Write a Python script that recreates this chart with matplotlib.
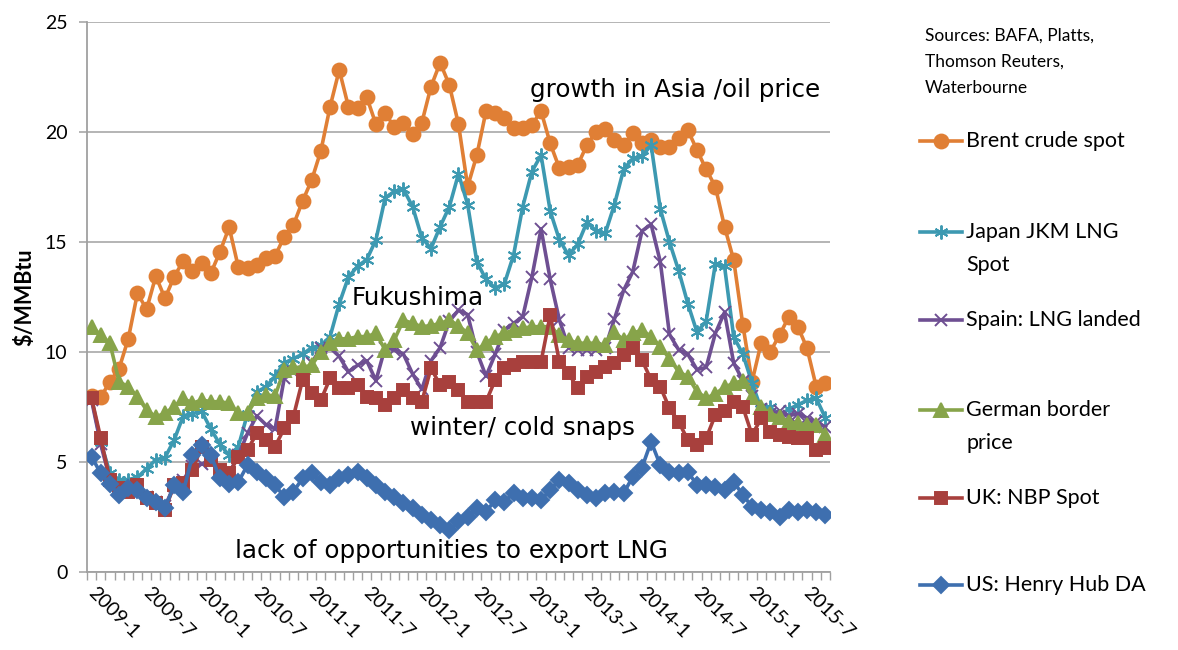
import numpy as np
import matplotlib
matplotlib.use('Agg')
import matplotlib.pyplot as plt
from matplotlib.lines import Line2D
from matplotlib.transforms import ScaledTranslation

# monthly data, 2009-1 .. 2015-9
start_year = 2009
n_months = 81

brent = [8.0, 7.95, 8.65, 9.25, 10.6, 12.67, 11.94, 13.45, 12.44, 13.42,
         14.15, 13.7, 14.06, 13.58, 14.56, 15.67, 13.85, 13.8, 13.95, 14.26,
         14.36, 15.24, 15.77, 16.86, 17.82, 19.15, 21.15, 22.82, 21.15, 21.08,
         21.58, 20.35, 20.88, 20.21, 20.42, 19.9, 20.42, 22.06, 23.15, 22.14,
         20.35, 17.52, 18.95, 20.95, 20.88, 20.62, 20.17, 20.17, 20.32, 20.95,
         19.48, 18.35, 18.42, 18.5, 19.41, 20.01, 20.12, 19.64, 19.41, 19.94,
         19.51, 19.64, 19.33, 19.33, 19.71, 20.09, 19.18, 18.3, 17.52, 15.7,
         14.18, 11.23, 8.65, 10.42, 10.02, 10.77, 11.6, 11.15, 10.17, 8.42, 8.6]

jkm = [7.9, 5.9, 4.5, 4.2, 4.2, 4.3, 4.7, 5.1, 5.2, 6.0,
       7.1, 7.2, 7.3, 6.5, 5.8, 5.3, 5.7, 7.2, 8.2, 8.4,
       8.9, 9.5, 9.7, 9.9, 10.2, 10.3, 10.7, 12.2, 13.4, 13.9,
       14.2, 15.1, 17.0, 17.3, 17.4, 16.6, 15.2, 14.7, 15.7, 16.6,
       18.1, 16.7, 14.1, 13.3, 12.9, 13.1, 14.4, 16.6, 18.2, 18.95,
       16.4, 15.1, 14.4, 14.9, 15.9, 15.5, 15.4, 16.7, 18.3, 18.8,
       18.9, 19.4, 16.5, 15.0, 13.7, 12.2, 10.9, 11.4, 14.0, 13.9,
       10.7, 9.9, 8.6, 7.4, 7.5, 7.1, 7.4, 7.6, 7.8, 7.9, 7.0]

spain = [7.8, 5.8, 4.2, 3.8, 3.7, 3.9, 3.4, 3.2, 3.0, 3.9,
         4.2, 4.8, 4.9, 5.0, 4.6, 4.5, 5.3, 6.3, 7.1, 6.7,
         6.5, 8.8, 9.1, 9.0, 9.5, 10.2, 10.2, 9.8, 9.1, 9.4,
         9.6, 8.7, 10.2, 10.1, 9.9, 9.0, 8.3, 9.6, 10.2, 11.4,
         11.9, 11.7, 10.0, 8.9, 9.9, 11.0, 11.3, 11.6, 13.4, 15.6,
         13.3, 11.45, 10.2, 10.1, 10.1, 10.1, 10.2, 11.5, 12.8, 13.65,
         15.5, 15.8, 14.1, 10.8, 10.1, 9.9, 9.2, 9.3, 10.85, 11.8,
         9.5, 8.7, 8.0, 7.4, 7.2, 7.3, 7.1, 7.2, 7.0, 6.8, 6.6]

german = [11.15, 10.77, 10.4, 8.65, 8.42, 7.97, 7.36, 7.06, 7.21, 7.52,
          7.89, 7.67, 7.82, 7.74, 7.74, 7.67, 7.21, 7.21, 7.89, 8.05,
          8.0, 9.2, 9.3, 9.3, 9.4, 10.0, 10.4, 10.6, 10.6, 10.7,
          10.7, 10.85, 10.1, 10.55, 11.45, 11.3, 11.15, 11.2, 11.3, 11.45,
          11.2, 10.85, 10.1, 10.4, 10.7, 10.85, 11.0, 11.08, 11.15, 11.15,
          11.15, 10.77, 10.55, 10.4, 10.4, 10.4, 10.3, 10.9, 10.55, 10.85,
          11.0, 10.7, 10.24, 9.7, 9.1, 8.88, 8.2, 7.9, 8.1, 8.4,
          8.58, 8.7, 7.97, 7.5, 7.2, 7.06, 6.83, 6.76, 6.68, 6.68, 6.23]

nbp = [7.9, 6.08, 4.18, 3.8, 3.65, 3.95, 3.35, 3.12, 2.82, 3.95,
       4.03, 4.64, 5.7, 5.09, 4.64, 4.48, 5.24, 5.55, 6.3, 6.0,
       5.7, 6.53, 7.06, 8.73, 8.12, 7.82, 8.8, 8.35, 8.35, 8.5,
       7.97, 7.9, 7.6, 7.9, 8.27, 7.9, 7.74, 9.26, 8.5, 8.65,
       8.27, 7.74, 7.74, 7.74, 8.73, 9.26, 9.4, 9.56, 9.56, 9.56,
       11.68, 9.56, 9.03, 8.35, 8.88, 9.1, 9.33, 9.48, 9.86, 10.17,
       9.64, 8.73, 8.42, 7.44, 6.83, 6.0, 5.77, 6.08, 7.14, 7.3,
       7.74, 7.5, 6.23, 6.98, 6.38, 6.23, 6.15, 6.08, 6.08, 5.55, 5.62]

henry_hub = [5.24, 4.48, 4.0, 3.5, 3.8, 3.75, 3.35, 3.2, 2.9, 3.95,
             3.65, 5.3, 5.77, 5.3, 4.26, 4.0, 4.1, 4.86, 4.56, 4.26,
             3.95, 3.42, 3.65, 4.26, 4.48, 4.1, 3.95, 4.26, 4.4, 4.56,
             4.26, 3.95, 3.65, 3.42, 3.12, 2.9, 2.6, 2.36, 2.14, 1.9,
             2.3, 2.5, 2.9, 2.74, 3.27, 3.2, 3.58, 3.35, 3.35, 3.27,
             3.73, 4.18, 4.03, 3.73, 3.5, 3.35, 3.58, 3.65, 3.58, 4.33,
             4.75, 5.92, 4.86, 4.56, 4.48, 4.56, 3.95, 3.95, 3.88, 3.73,
             4.1, 3.5, 2.97, 2.82, 2.74, 2.5, 2.82, 2.74, 2.82, 2.74, 2.6]

labels = ['Brent crude spot', 'Japan JKM LNG\nSpot', 'Spain: LNG landed',
          'German border\nprice', 'UK: NBP Spot', 'US: Henry Hub DA']

sources = ['Sources: BAFA, Platts,', 'Thomson Reuters,', 'Waterbourne']

months = ['{}-{}'.format(start_year + i // 12, i % 12 + 1) for i in range(n_months)]

#__________________________________________________________
W, H = 1178, 650
def fx(px): return px / W
def fy(py): return 1 - py / H

plt.rcParams['font.family'] = ['Lato', 'DejaVu Sans']

series = [brent, jkm, spain, german, nbp, henry_hub]
colors = ['#E07F35', '#3D99B1', '#6E4F92', '#87A44A', '#A8403D', '#3E6FAF']
markers = ['o', (6, 2, 0), 'x', '^', 's', 'D']
msizes = [10, 10, 8, 10, 9, 8]

fig = plt.figure(figsize=(W / 100, H / 100), dpi=100)
ax = fig.add_axes([fx(87), fy(572), fx(830) - fx(87), fy(22) - fy(572)])

x = np.arange(n_months)
for vals, c, m, ms in zip(series, colors, markers, msizes):
    ax.plot(x, vals, color=c, lw=2.6, marker=m, ms=ms, mec=c, mfc=c,
            mew=1.4, zorder=3)

ax.set_xlim(-0.5, n_months - 0.5)
ax.set_ylim(0, 25)
ax.set_yticks(range(0, 26, 5))
ax.yaxis.grid(True, color='#A0A0A0', lw=1.1)
ax.set_axisbelow(True)
for s in ['top', 'right']:
    ax.spines[s].set_visible(False)
for s in ['left', 'bottom']:
    ax.spines[s].set_color('#A0A0A0')
    ax.spines[s].set_linewidth(1.3)
ax.tick_params(axis='y', length=6, width=1.1, color='#A0A0A0', labelsize=14, pad=8)

# x ticks: small marks between categories, labels every 6 months
ax.set_xticks(np.arange(n_months + 1) - 0.5, minor=True)
ax.tick_params(axis='x', which='minor', length=6, width=1, color='#A0A0A0')
ax.set_xticks(x[::6])
ax.set_xticklabels(months[::6], rotation=-45, ha='left', va='top',
                   rotation_mode='anchor', fontsize=14)
ax.tick_params(axis='x', which='major', length=0, pad=9)
for lab in ax.get_xticklabels():
    lab.set_transform(lab.get_transform() + ScaledTranslation(0.05, 0, fig.dpi_scale_trans))

ax.set_ylabel('$/MMBtu', fontsize=15.5, fontweight='bold', labelpad=7)

# annotations
note_kw = dict(fontsize=17.7, fontfamily='DejaVu Sans', va='center', ha='left', color='black')
ax.text(47.8, 21.9, 'growth in Asia /oil price', **note_kw)
ax.text(28.4, 12.45, 'Fukushima', **note_kw)
ax.text(34.7, 6.55, 'winter/ cold snaps', **note_kw)
ax.text(15.6, 0.95, 'lack of opportunities to export LNG', **note_kw)

# sources
for k, line in enumerate(sources):
    fig.text(fx(925), fy(36 + 26 * k), line, fontsize=12.5, va='center', ha='left')

# legend, placed like the original
leg_y = [141, 232, 320, 410, 498, 585]
for lab, c, m, ms, yy in zip(labels, colors, markers, msizes, leg_y):
    fig.add_artist(Line2D([fx(920), fx(962)], [fy(yy), fy(yy)], color=c, lw=2.6))
    fig.add_artist(Line2D([fx(941)], [fy(yy)], color=c, marker=m, ms=ms,
                          mec=c, mfc=c, mew=1.4))
    for k, line in enumerate(lab.split('\n')):
        fig.text(fx(966), fy(yy + 33 * k), line, fontsize=15.5, va='center', ha='left')

fig.savefig('out.png', dpi=100)
